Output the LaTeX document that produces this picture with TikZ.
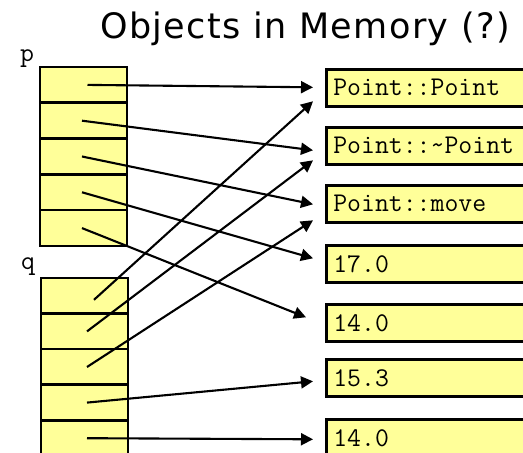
\documentclass[tikz,border=0pt]{standalone}
\usepackage{fontspec}
\setmainfont{DejaVu Sans}
\newfontfamily\titlefont[LetterSpace=4]{DejaVu Sans}
\usetikzlibrary{arrows.meta,calc}
\definecolor{memyellow}{RGB}{255,255,153}
\tikzset{
  cell/.style={draw=black, line width=2.6pt, fill=memyellow,
    minimum width=87pt, minimum height=35.8pt, inner sep=0pt},
  funcbox/.style={draw=black, line width=2.6pt, fill=memyellow,
    minimum width=230pt, minimum height=37pt, text width=216pt,
    align=left, inner xsep=7pt, inner ysep=0pt, anchor=north west,
    font=\ttfamily\fontsize{27}{27}\selectfont},
  varname/.style={anchor=base west, inner sep=0pt,
    font=\ttfamily\fontsize{27}{27}\selectfont},
  ptr/.style={line width=2.1pt, -{Triangle[length=12pt,width=12pt]}}
}
\begin{document}
\begin{tikzpicture}[x=1pt,y=1pt]
\useasboundingbox (0,0) rectangle (523,453);
\clip (0,0) rectangle (523,453);

% title
\node[anchor=base, inner sep=0pt, font=\titlefont\fontsize{35}{35}\selectfont]
  (title) at (305,414) {Objects in Memory (?)};

% variable names
\node[varname] (pname) at (20,391) {p};
\node[varname] (qname) at (21,183) {q};

% the two objects: stacks of slots
\foreach \i in {1,...,5}
  \node[cell] (p\i) at (83.5,{368.1-35.8*(\i-1)}) {};
\foreach \i in {1,...,5}
  \node[cell] (q\i) at (84.5,{157.2-35.6*(\i-1)}) {};

% functions and values
\node[funcbox] (f1) at (325,385) {Point::Point};
\node[funcbox] (f2) at (325,327) {Point::\textasciitilde Point};
\node[funcbox] (f3) at (325,269) {Point::move};
\node[funcbox] (f4) at (325,209) {17.0};
\node[funcbox] (f5) at (325,150) {14.0};
\node[funcbox] (f6) at (325,95) {15.3};
\node[funcbox] (f7) at (325,35) {14.0};

% arrow tips in front of the boxes
\coordinate (a1p) at ($(f1.west)+(-12,0.5)$);
\coordinate (a1q) at ($(f1.west)+(-12,-13.5)$);
\coordinate (a2p) at ($(f2.west)+(-12,-4.5)$);
\coordinate (a2q) at ($(f2.west)+(-12,-14.5)$);
\coordinate (a3p) at ($(f3.west)+(-12,-0.5)$);
\coordinate (a3q) at ($(f3.west)+(-12,-16.5)$);
\coordinate (a4) at ($(f4.west)+(-12,5.5)$);
\coordinate (a5) at ($(f5.west)+(-19,5.5)$);
\coordinate (a6) at ($(f6.west)+(-12,-3.5)$);
\coordinate (a7) at ($(f7.west)+(-12,-1.5)$);

% pointers of p
\draw[ptr] ([xshift=4pt]p1.center) -- (a1p);
\draw[ptr] ([xshift=-1.5pt]p2.center) -- (a2p);
\draw[ptr] ([xshift=-1.5pt]p3.center) -- (a3p);
\draw[ptr] ([xshift=-1.5pt]p4.center) -- (a4);
\draw[ptr] ([xshift=-1.5pt]p5.center) -- (a5);

% pointers of q
\draw[ptr] ([xshift=9.5pt,yshift=-4pt]q1.center) -- (a1q);
\draw[ptr] ([xshift=2.5pt]q2.center) -- (a2q);
\draw[ptr] ([xshift=2.5pt]q3.center) -- (a3q);
\draw[ptr] ([xshift=2.5pt]q4.center) -- (a6);
\draw[ptr] ([xshift=2.5pt]q5.center) -- (a7);
\end{tikzpicture}
\end{document}
